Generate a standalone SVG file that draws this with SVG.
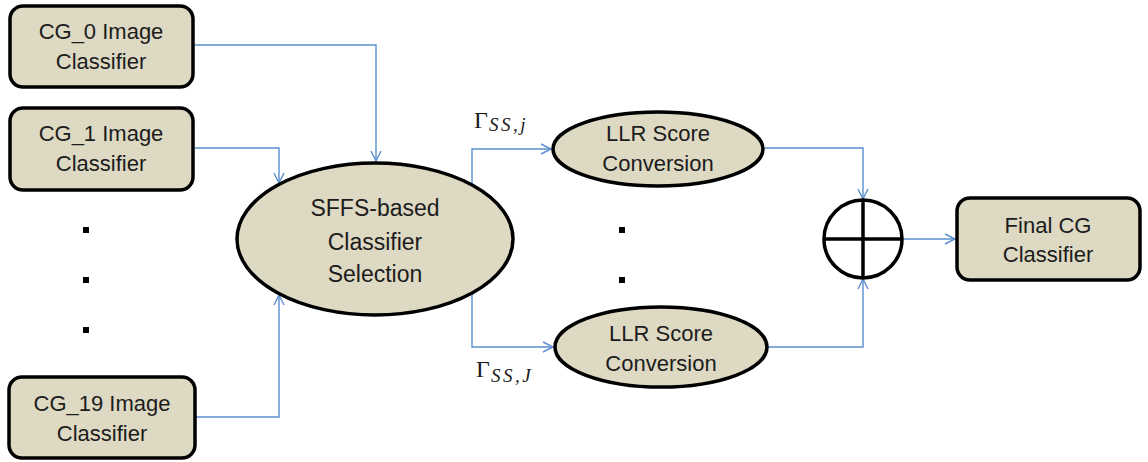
<svg xmlns="http://www.w3.org/2000/svg" width="1148" height="462" viewBox="0 0 1148 462">
  <defs>
    <marker id="arrow" markerUnits="userSpaceOnUse" markerWidth="14" markerHeight="14" refX="11" refY="6" orient="auto">
      <path d="M1,1 L11,6 L1,11" fill="none" stroke="#5b8fd0" stroke-width="1.4"/>
    </marker>
    <style>
      .box { fill: #ddd9c3; stroke: #000; stroke-width: 3.5; }
      .lbl { font-family: "Liberation Sans", Arial, sans-serif; font-size: 22px; fill: #1c1c1c; text-anchor: middle; }
      .big { font-size: 23px; }
      .conn { fill: none; stroke: #5b8fd0; stroke-width: 1.4; }
      .math { font-family: "Liberation Serif", "Times New Roman", serif; fill: #1c1c1c; font-size: 24px; }
      .sub { font-size: 19px; font-style: italic; letter-spacing: 2.5px; }
      .dot { fill: #000; }
    </style>
  </defs>

  <rect width="1148" height="462" fill="#fff"/>

  <!-- connectors -->
  <g id="connectors">
    <path class="conn" d="M195,45 H376 V161" marker-end="url(#arrow)"/>
    <path class="conn" d="M195,148 H279 V183" marker-end="url(#arrow)"/>
    <path class="conn" d="M195,417 H279 V295" marker-end="url(#arrow)"/>
    <path class="conn" d="M472,185 V149 H551" marker-end="url(#arrow)"/>
    <path class="conn" d="M472,293 V347 H553" marker-end="url(#arrow)"/>
    <path class="conn" d="M765,148 H863 V199" marker-end="url(#arrow)"/>
    <path class="conn" d="M767,347 H863 V279" marker-end="url(#arrow)"/>
    <path class="conn" d="M902,239 H955" marker-end="url(#arrow)"/>
  </g>

  <!-- input classifiers -->
  <g id="cg0">
    <rect class="box" x="10" y="6" width="183" height="81" rx="13"/>
    <text class="lbl" x="101" y="39">CG_0 Image</text>
    <text class="lbl" x="101" y="69">Classifier</text>
  </g>
  <g id="cg1">
    <rect class="box" x="10" y="108" width="183" height="82" rx="13"/>
    <text class="lbl" x="101" y="141">CG_1 Image</text>
    <text class="lbl" x="101" y="171">Classifier</text>
  </g>
  <g id="cg19">
    <rect class="box" x="9" y="377" width="186" height="81" rx="13"/>
    <text class="lbl" x="102" y="411">CG_19 Image</text>
    <text class="lbl" x="102" y="441">Classifier</text>
  </g>

  <!-- vertical ellipsis between inputs -->
  <g id="dots-left">
    <rect class="dot" x="83" y="227" width="6" height="6"/>
    <rect class="dot" x="83" y="277" width="6" height="6"/>
    <rect class="dot" x="83" y="327" width="6" height="6"/>
  </g>

  <!-- selection stage -->
  <g id="sffs">
    <ellipse class="box" cx="375" cy="239" rx="138" ry="76"/>
    <text class="lbl big" x="375" y="216">SFFS-based</text>
    <text class="lbl big" x="375" y="250">Classifier</text>
    <text class="lbl big" x="375" y="282">Selection</text>
  </g>

  <!-- selected-classifier labels -->
  <g id="gamma-j">
    <text class="math" x="474" y="128">Γ<tspan class="sub" dx="1" dy="3">SS,j</tspan></text>
  </g>
  <g id="gamma-J">
    <text class="math" x="476" y="377">Γ<tspan class="sub" dx="1" dy="5">SS,J</tspan></text>
  </g>

  <!-- score conversion stage -->
  <g id="llr1">
    <ellipse class="box" cx="658" cy="149" rx="105" ry="37"/>
    <text class="lbl" x="658" y="141">LLR Score</text>
    <text class="lbl" x="658" y="171">Conversion</text>
  </g>
  <g id="dots-mid">
    <rect class="dot" x="619" y="227" width="6" height="6"/>
    <rect class="dot" x="619" y="277" width="6" height="6"/>
  </g>
  <g id="llr2">
    <ellipse class="box" cx="661" cy="347" rx="106" ry="40"/>
    <text class="lbl" x="661" y="341">LLR Score</text>
    <text class="lbl" x="661" y="371">Conversion</text>
  </g>

  <!-- summing junction -->
  <g id="sum">
    <circle cx="863" cy="239" r="39" fill="#fff" stroke="#000" stroke-width="3.5"/>
    <line x1="824" y1="239" x2="902" y2="239" stroke="#000" stroke-width="3.5"/>
    <line x1="863" y1="200" x2="863" y2="278" stroke="#000" stroke-width="3.5"/>
  </g>

  <!-- output -->
  <g id="final">
    <rect class="box" x="957" y="198" width="183" height="82" rx="13"/>
    <text class="lbl" x="1048" y="233">Final CG</text>
    <text class="lbl" x="1048" y="262">Classifier</text>
  </g>
</svg>
